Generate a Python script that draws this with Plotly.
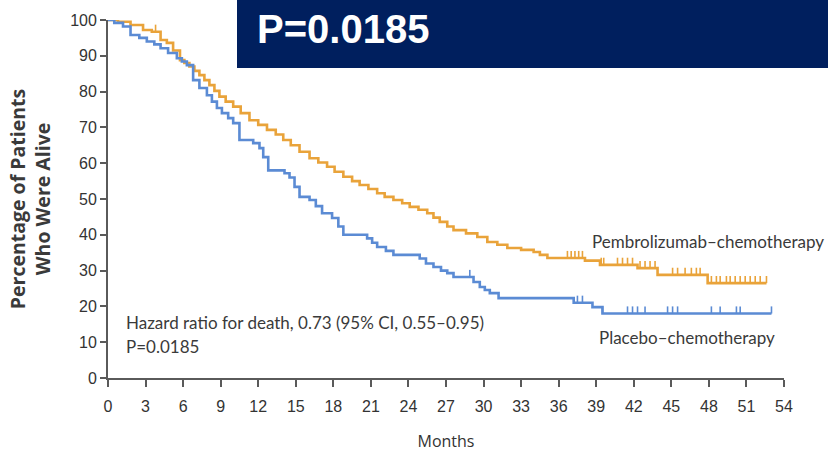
import numpy as np
import plotly.graph_objects as go

# Kaplan-Meier step points: event times (months) and survival (%) after each step
pem_t = [0, 0.8, 1.8, 2.8, 3.5, 4.2, 4.7, 5.2, 5.75, 6.1, 6.5, 6.9, 7.3, 7.7, 8.1, 8.5, 8.9,
         9.4, 10.0, 10.6, 11.3, 12.0, 12.7, 13.4, 14.0, 14.6, 15.3, 16.1, 16.8, 17.5, 18.1,
         18.8, 19.5, 20.1, 20.8, 21.5, 22.1, 22.8, 23.5, 24.1, 24.8, 25.5, 26.0, 26.5, 27.1,
         27.6, 28.6, 29.5, 30.3, 31.1, 31.9, 33.0, 34.0, 34.5, 35.1, 38.1, 39.3, 42.3, 43.9,
         47.9]
pem_s = [100, 99.5, 98.6, 97.2, 96.7, 94.4, 93.6, 91.5, 88.8, 88.0, 87.0, 85.8, 84.6, 83.2,
         81.8, 80.2, 78.6, 77.2, 75.8, 74.0, 72.0, 70.7, 69.3, 68.0, 66.5, 65.0, 63.2, 61.4,
         60.2, 59.0, 57.6, 56.2, 55.0, 53.9, 52.8, 51.6, 50.6, 49.7, 48.8, 47.8, 47.0, 46.0,
         44.8, 43.6, 42.3, 41.3, 40.4, 39.4, 38.0, 37.2, 36.3, 35.8, 35.2, 34.4, 33.5, 32.8,
         31.6, 30.7, 28.8, 26.5]
pem_end = 52.6
pem_cens = [3.8, 36.7, 37.0, 37.3, 37.6, 37.9, 39.4, 39.6, 40.7, 41.1, 41.5, 41.9, 42.5,
            42.9, 43.3, 43.7, 45.1, 45.5, 46.1, 46.6, 47.0, 47.3, 48.2, 48.6, 48.9, 49.4,
            49.7, 50.1, 50.5, 50.9, 51.3, 51.7, 52.1, 52.6]

pla_t = [0, 0.5, 1.2, 1.8, 2.5, 3.1, 3.7, 4.2, 4.8, 5.5, 5.9, 6.3, 6.8, 7.3, 7.9, 8.3, 8.7,
         9.1, 9.6, 10.0, 10.5, 11.6, 12.1, 12.4, 12.8, 14.1, 14.5, 14.9, 15.3, 16.1, 16.6,
         17.1, 17.9, 18.4, 18.8, 20.7, 21.1, 21.5, 22.2, 22.8, 24.9, 25.4, 26.0, 26.6, 27.1,
         27.6, 29.2, 29.7, 30.1, 30.5, 31.2, 37.2, 38.7, 39.5]
pla_s = [100, 99.2, 98.2, 95.8, 95.0, 94.0, 93.2, 92.1, 90.8, 89.3, 88.4, 87.4, 83.2, 81.0,
         79.0, 77.2, 75.4, 74.0, 72.6, 71.2, 66.5, 65.6, 64.2, 61.7, 58.0, 57.2, 56.0, 53.4,
         50.6, 49.7, 48.0, 46.0, 44.7, 42.3, 40.0, 39.0, 37.8, 36.6, 35.5, 34.4, 33.4, 32.0,
         31.0, 30.0, 29.3, 28.2, 26.8, 25.4, 24.6, 23.7, 22.3, 21.0, 19.8, 18.0]
pla_end = 53.0
pla_cens = [28.9, 37.5, 37.9, 39.5, 41.5, 41.9, 42.3, 42.9, 44.7, 45.1, 45.5, 48.2, 48.9,
            50.2, 50.5, 53.0]

x_ticks = list(range(0, 55, 3))
y_ticks = list(range(0, 101, 10))

ORANGE = "#E9A33A"
BLUE = "#5B8BD4"
AXIS = "#5a5a5a"
TICK_FONT = "Liberation Sans Narrow, Liberation Sans, sans-serif"
TEXT_FONT = "Lato, Open Sans, sans-serif"


def surv_at(times, surv, t):
    idx = np.searchsorted(np.asarray(times), t, side="right") - 1
    return np.asarray(surv)[idx]


def censor_segments(times, surv, cens, height=2.0):
    xs, ys = [], []
    for c in cens:
        s = float(surv_at(times, surv, c))
        xs += [c, c, None]
        ys += [s, s + height, None]
    return xs, ys


fig = go.Figure()

for t, s, end, cens, color, name in [
    (pem_t, pem_s, pem_end, pem_cens, ORANGE, "Pembrolizumab–chemotherapy"),
    (pla_t, pla_s, pla_end, pla_cens, BLUE, "Placebo–chemotherapy"),
]:
    fig.add_trace(go.Scatter(
        x=list(t) + [end], y=list(s) + [s[-1]],
        mode="lines", line=dict(color=color, width=2.6, shape="hv"),
        name=name, showlegend=False, cliponaxis=False, hoverinfo="skip",
    ))
    cx, cy = censor_segments(t, s, cens)
    fig.add_trace(go.Scatter(
        x=cx, y=cy, mode="lines", line=dict(color=color, width=1.6),
        showlegend=False, cliponaxis=False, hoverinfo="skip",
    ))

fig.update_xaxes(
    range=[0, 54], tickvals=x_ticks, ticktext=[str(v) for v in x_ticks], automargin=False,
    showgrid=False, zeroline=False, showline=True, linecolor=AXIS, linewidth=1.8,
    ticks="outside", ticklen=7, tickwidth=1.6, tickcolor=AXIS, ticklabelstandoff=6,
    tickfont=dict(family=TICK_FONT, size=16, color="#333333"),
    title=dict(text="Months", font=dict(family="Open Sans, sans-serif", size=16, color="#333333"),
               standoff=22),
)
fig.update_yaxes(
    range=[0, 100], tickvals=y_ticks, ticktext=[str(v) for v in y_ticks], automargin=False,
    showgrid=False, zeroline=False, showline=True, linecolor=AXIS, linewidth=1.8,
    ticks="outside", ticklen=6, tickwidth=1.6, tickcolor=AXIS,
    tickfont=dict(family=TICK_FONT, size=16, color="#333333"),
    title=dict(text="<b>Percentage of Patients<br>Who Were Alive</b>",
               font=dict(family="Open Sans, sans-serif", size=19.5, color="#3a3a3a"), standoff=14),
)

annotations = [
    dict(x=1.25, y=15.4, text="Hazard ratio for death, 0.73 (95% CI, 0.55–0.95)",
         font=dict(family=TEXT_FONT, size=17, color="#3a3a3a")),
    dict(x=1.25, y=8.7, text="P=0.0185",
         font=dict(family=TEXT_FONT, size=17, color="#3a3a3a")),
    dict(x=38.5, y=38.0, text="Pembrolizumab–chemotherapy",
         font=dict(family=TEXT_FONT, size=17, color="#3a3a3a")),
    dict(x=39.1, y=11.2, text="Placebo–chemotherapy",
         font=dict(family=TEXT_FONT, size=17, color="#3a3a3a")),
]
for a in annotations:
    fig.add_annotation(xref="x", yref="y", xanchor="left", yanchor="middle",
                       showarrow=False, **a)

# Highlighted P-value banner across the top right
fig.add_shape(type="rect", xref="paper", yref="paper", x0=(237 - 108) / 676, x1=1.2,
              y0=(378 - 68) / 358, y1=1.2, fillcolor="#001F5E", line=dict(width=0), layer="above")
fig.add_annotation(xref="paper", yref="paper", x=(255 - 108) / 676, y=(378 - 29) / 358,
                   xanchor="left", yanchor="middle", showarrow=False, text="<b>P=0.0185</b>",
                   font=dict(family="Liberation Sans Narrow, Arial Narrow, sans-serif", size=40,
                             color="white"))

fig.update_layout(
    width=828, height=452, margin=dict(l=108, r=44, t=20, b=74),
    paper_bgcolor="white", plot_bgcolor="white",
)

fig.write_html("out.html")
